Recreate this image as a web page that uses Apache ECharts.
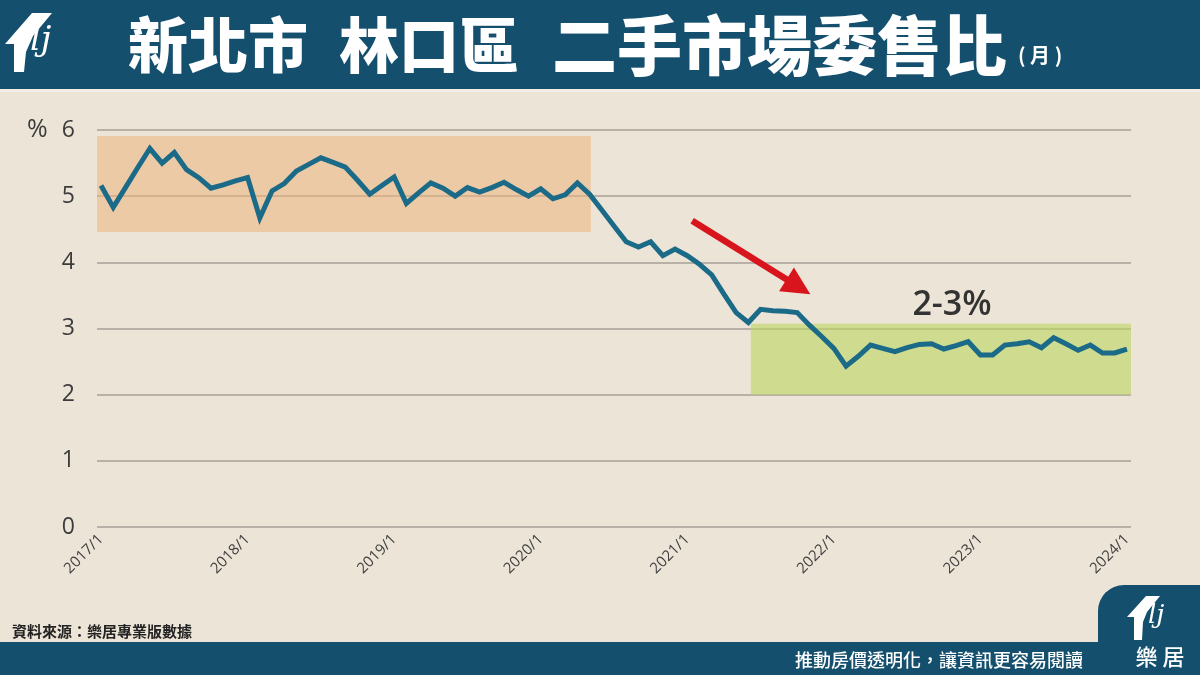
<!DOCTYPE html>
<html>
<head>
<meta charset="utf-8">
<script src="https://cdn.jsdelivr.net/npm/echarts@6/dist/echarts.min.js"></script>
<style>
html,body{margin:0;padding:0;background:#ece4d6;}
#c{width:1200px;height:675px;}
</style>
</head>
<body>
<div id="c"></div>
<script>
// Monthly values, 2017/1 .. 2024/1 (85 months), percent
const values = [
  5.16, 4.83, 5.13, 5.43, 5.72, 5.50, 5.66, 5.40, 5.28, 5.12, 5.17, 5.23,
  5.28, 4.67, 5.08, 5.19, 5.38, 5.48, 5.58, 5.51, 5.44, 5.24, 5.03, 5.16,
  5.29, 4.89, 5.05, 5.20, 5.12, 5.00, 5.13, 5.06, 5.13, 5.21, 5.10, 5.00,
  5.11, 4.96, 5.02, 5.20, 5.03, 4.79, 4.55, 4.31, 4.23, 4.31, 4.10, 4.20,
  4.10, 3.97, 3.81, 3.52, 3.24, 3.09, 3.29, 3.27, 3.26, 3.24, 3.05, 2.88,
  2.70, 2.43, 2.58, 2.75, 2.70, 2.65, 2.71, 2.76, 2.77, 2.69, 2.74, 2.80,
  2.60, 2.60, 2.75, 2.77, 2.80, 2.71, 2.86, 2.77, 2.67, 2.75, 2.63, 2.63,
  2.69
];
const tickLabels = ['2017/1','2018/1','2019/1','2020/1','2021/1','2022/1','2023/1','2024/1'];
const tickPositions = [0, 12, 24, 36, 48, 60, 72, 84];
// annotation ranges (month index, percent)
const highBand = { x0: -0.33, x1: 40.1, y0: 4.46, y1: 5.91 };
const lowBand  = { x0: 53.2, x1: 84.33, y0: 2.0, y1: 3.07 };
const arrowFrom = [48.4, 4.63];
const arrowTo   = [57.1, 3.63];

const seriesData = values.map((v, i) => [i, v]);

const chart = echarts.init(document.getElementById('c'), null, {renderer: 'canvas'});
const CJK = '"Noto Sans CJK TC","Noto Sans CJK SC",sans-serif';

chart.setOption({
  animation: false,
  backgroundColor: '#ece4d6',
  grid: { left: 97, right: 69, top: 130, bottom: 148, containLabel: false },
  xAxis: {
    type: 'value',
    min: -0.33,
    max: 84.33,
    axisLine: { show: false },
    axisTick: { show: false },
    splitLine: { show: false },
    axisLabel: {
      customValues: tickPositions,
      formatter: v => tickLabels[Math.round(v / 12)],
      rotate: 45,
      margin: 10,
      fontSize: 15,
      color: '#404040',
      fontFamily: '"Open Sans", sans-serif'
    }
  },
  yAxis: {
    type: 'value',
    min: 0,
    max: 6,
    interval: 1,
    axisLine: { show: false },
    axisTick: { show: false },
    axisLabel: {
      margin: 22,
      fontSize: 23,
      color: '#3c3c3c',
      fontFamily: '"Open Sans", sans-serif',
      formatter: v => String(v)
    },
    splitLine: { lineStyle: { color: '#a9a197', width: 1.5 } }
  },
  series: [{
    type: 'line',
    data: seriesData,
    showSymbol: false,
    symbol: 'none',
    z: 5,
    lineStyle: { color: '#1b6b88', width: 5, join: 'miter' },
    markArea: {
      silent: true,
      data: [
        [{ coord: [highBand.x0, highBand.y1], itemStyle: { color: 'rgba(237,180,125,0.55)' } },
         { coord: [highBand.x1, highBand.y0] }],
        [{ coord: [lowBand.x0, lowBand.y1], itemStyle: { color: 'rgba(189,213,94,0.6)' } },
         { coord: [lowBand.x1, lowBand.y0] }]
      ]
    },
    markLine: {
      silent: true,
      symbol: ['none', 'triangle'],
      symbolSize: [28, 28],
      label: { show: false },
      lineStyle: { color: '#d8141c', width: 6.5, type: 'solid' },
      data: [[{ coord: arrowFrom }, { coord: arrowTo }]]
    }
  }],
  graphic: [
    // header bar
    { type: 'rect', left: 0, top: 0, z: 10, shape: { width: 1200, height: 89 }, style: { fill: '#144f6d' } },
    { type: 'rect', left: 0, top: 89, z: 10, shape: { width: 1200, height: 3 }, style: { fill: '#f3ede3' } },
    // header logo (stylized house)
    { type: 'polygon', z: 11, shape: { points: [[5,44],[32,13],[52,13],[33,36],[26,52],[24,72],[14,72],[14,44]] }, style: { fill: '#ffffff' } },
    { type: 'text', z: 11, x: 30, y: 24, style: { text: 'lj', fill: '#ffffff', font: 'italic 34px "DejaVu Serif", serif' } },
    // title
    { type: 'text', z: 11, x: 128, y: 45, style: { text: '新北市', fill: '#ffffff', font: '900 60px ' + CJK, textVerticalAlign: 'middle' } },
    { type: 'text', z: 11, x: 339, y: 45, style: { text: '林口區', fill: '#ffffff', font: '900 60px ' + CJK, textVerticalAlign: 'middle' } },
    { type: 'text', z: 11, x: 552, y: 45, style: { text: '二手市場委售比', fill: '#ffffff', font: '900 65px ' + CJK, textVerticalAlign: 'middle' } },
    { type: 'text', z: 11, x: 1018, y: 55, style: { text: '( 月 )', fill: '#ffffff', font: '700 20px ' + CJK, textVerticalAlign: 'middle' } },
    // y unit
    { type: 'text', z: 11, x: 27, y: 130, style: { text: '%', fill: '#3c3c3c', font: '25px "Open Sans", sans-serif', textVerticalAlign: 'middle' } },
    // range label
    { type: 'text', z: 11, x: 952, y: 305, style: { text: '2-3%', fill: '#333333', font: '600 34px "Open Sans", sans-serif', textAlign: 'center', textVerticalAlign: 'middle' } },
    // source
    { type: 'text', z: 11, x: 12, y: 631, style: { text: '資料來源：樂居專業版數據', fill: '#222222', font: '700 15px ' + CJK, textVerticalAlign: 'middle' } },
    // footer bar
    { type: 'rect', left: 0, top: 642, z: 10, shape: { width: 1200, height: 33 }, style: { fill: '#144f6d' } },
    { type: 'rect', z: 10, x: 1098, y: 585, shape: { width: 102, height: 90, r: [26, 0, 0, 0] }, style: { fill: '#144f6d' } },
    { type: 'text', z: 11, x: 1083, y: 660, style: { text: '推動房價透明化，讓資訊更容易閱讀', fill: '#ffffff', font: '500 18px ' + CJK, textAlign: 'right', textVerticalAlign: 'middle' } },
    // footer logo
    { type: 'polygon', z: 11, shape: { points: [[1127,617],[1146,596],[1160,596],[1147,612],[1143,622],[1142,640],[1134,640],[1134,617]] }, style: { fill: '#ffffff' } },
    { type: 'text', z: 11, x: 1148, y: 603, style: { text: 'lj', fill: '#ffffff', font: 'italic 26px "DejaVu Serif", serif' } },
    { type: 'text', z: 11, x: 1160, y: 657, style: { text: '樂 居', fill: '#ffffff', font: '500 22px ' + CJK, textAlign: 'center', textVerticalAlign: 'middle' } }
  ]
});
</script>
</body>
</html>
